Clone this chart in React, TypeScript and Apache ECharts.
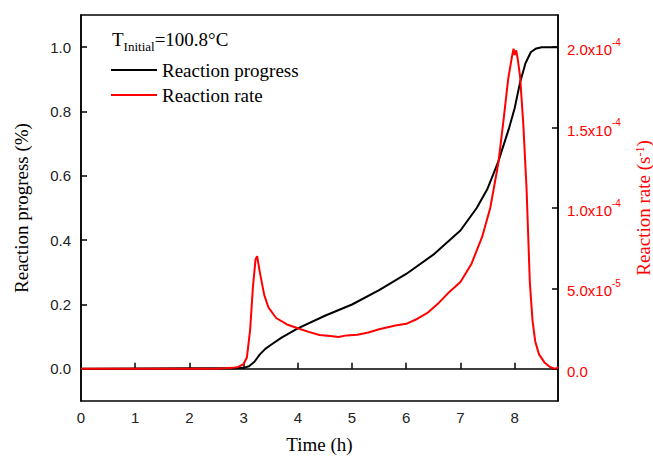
import React, { useEffect, useRef } from "react";
import * as echarts from "echarts";

// Reaction progress (fraction) vs time (h)
const timeProgress = [0, 1, 2, 2.8, 3.0, 3.1, 3.2, 3.3, 3.4, 3.5, 3.7, 4.0, 4.5, 5.0, 5.5, 6.0, 6.5, 7.0, 7.3, 7.5, 7.7, 7.9, 8.0, 8.1, 8.2, 8.3, 8.4, 8.5, 8.8];
const progress = [0, 0.001, 0.002, 0.002, 0.003, 0.008, 0.022, 0.045, 0.062, 0.074, 0.097, 0.126, 0.165, 0.2, 0.245, 0.295, 0.355, 0.43, 0.5, 0.56, 0.645, 0.75, 0.81, 0.89, 0.95, 0.985, 0.996, 1.0, 1.0];

// Reaction rate (s^-1) vs time (h)
const timeRate = [0, 1, 2, 2.5, 2.8, 2.9, 3.0, 3.06, 3.12, 3.17, 3.22, 3.25, 3.3, 3.38, 3.46, 3.6, 3.8, 4.0, 4.2, 4.4, 4.6, 4.75, 4.9, 5.1, 5.3, 5.5, 5.8, 6.0, 6.2, 6.4, 6.6, 6.8, 7.0, 7.2, 7.4, 7.55, 7.7, 7.8, 7.88, 7.95, 7.98, 8.0, 8.03, 8.06, 8.1, 8.16, 8.22, 8.28, 8.33, 8.38, 8.45, 8.55, 8.65, 8.72, 8.78, 8.8];
const rate = [0, 0, 0, 0, 6e-7, 1.2e-6, 3e-6, 7e-6, 2.4e-5, 5.0e-5, 6.8e-5, 7.0e-5, 6.0e-5, 4.6e-5, 3.8e-5, 3.16e-5, 2.76e-5, 2.52e-5, 2.3e-5, 2.1e-5, 2.04e-5, 1.98e-5, 2.08e-5, 2.12e-5, 2.26e-5, 2.46e-5, 2.7e-5, 2.8e-5, 3.1e-5, 3.5e-5, 4.1e-5, 4.8e-5, 5.4e-5, 6.5e-5, 8.2e-5, 1.0e-4, 1.28e-4, 1.56e-4, 1.8e-4, 1.94e-4, 1.99e-4, 1.95e-4, 1.98e-4, 1.92e-4, 1.82e-4, 1.52e-4, 1.12e-4, 5.4e-5, 3.0e-5, 1.7e-5, 9e-6, 4e-6, 1.2e-6, 2e-7, 4e-7, 1.2e-6];

// Tick values
const xTicks = [0, 1, 2, 3, 4, 5, 6, 7, 8];
const leftTicks = [0, 0.2, 0.4, 0.6, 0.8, 1.0];
const rightTicks = [0, 5e-5, 1e-4, 1.5e-4, 2e-4];

const SANS = "Liberation Sans, Arial, sans-serif";
const SERIF = "Liberation Serif, Times New Roman, serif";
const RED = "#ff0000";

function rateLabel(v: number): string {
  if (Math.abs(v) < 1e-12) return "{n|0.0}";
  const exp = Math.floor(Math.log10(Math.abs(v)) + 1e-9);
  const mant = v / Math.pow(10, exp);
  return `{n|${mant.toFixed(1)}x10}{sup|${exp}}`;
}

export default function App() {
  const ref = useRef<HTMLDivElement>(null);
  useEffect(() => {
    if (!ref.current) return;
    const chart = echarts.init(ref.current, null, { renderer: "svg" });
    const axisLineStyle = { color: "#000", width: 1.5 };
    chart.setOption({
      animation: false,
      backgroundColor: "#fff",
      grid: {
        left: 81,
        right: 95,
        top: 15,
        bottom: 56,
        containLabel: false,
        outerBoundsMode: "none",
        show: true,
        borderColor: "#000",
        borderWidth: 1.5,
        backgroundColor: "transparent",
      },
      legend: {
        orient: "vertical",
        left: 111,
        top: 59,
        icon: "rect",
        itemWidth: 46,
        itemHeight: 2,
        itemGap: 3,
        padding: 0,
        textStyle: { fontFamily: SERIF, fontSize: 19, color: "#000", lineHeight: 22 },
        data: ["Reaction progress", "Reaction rate"],
      },
      graphic: [
        {
          type: "text",
          left: 112,
          top: 30,
          style: {
            text: "{t|T}{s|Initial}{t|=100.8°C}",
            rich: {
              t: { fontFamily: SERIF, fontSize: 19, fill: "#000", lineHeight: 22, verticalAlign: "bottom" },
              s: { fontFamily: SERIF, fontSize: 13, fill: "#000", lineHeight: 14, verticalAlign: "bottom", padding: [0, 0, -4, 0] },
            },
          },
        },
      ],
      xAxis: {
        type: "value",
        min: 0,
        max: 8.8,
        name: "Time (h)",
        nameLocation: "middle",
        nameGap: 34,
        nameTextStyle: { fontFamily: SERIF, fontSize: 19, color: "#000" },
        axisLine: { show: true, lineStyle: axisLineStyle },
        axisTick: { show: true, inside: true, length: 6, customValues: xTicks, lineStyle: axisLineStyle },
        axisLabel: { customValues: xTicks, fontFamily: SANS, fontSize: 15, color: "#222", margin: 9 },
        splitLine: { show: false },
      },
      yAxis: [
        {
          type: "value",
          position: "left",
          min: -0.1,
          max: 1.1,
          name: "Reaction progress (%)",
          nameLocation: "middle",
          nameGap: 50,
          nameRotate: 90,
          nameTextStyle: { fontFamily: SERIF, fontSize: 19, color: "#000" },
          axisLine: { show: true, lineStyle: axisLineStyle },
          axisTick: { show: true, inside: true, length: 6, customValues: leftTicks, lineStyle: axisLineStyle },
          axisLabel: {
            customValues: leftTicks,
            fontFamily: SANS,
            fontSize: 15,
            color: "#222",
            margin: 10,
            formatter: (v: number) => v.toFixed(1),
          },
          splitLine: { show: false },
        },
        {
          type: "value",
          position: "right",
          min: -2e-5,
          max: 2.2e-4,
          name: "Reaction rate (s{sup|-1})",
          nameLocation: "middle",
          nameGap: 76,
          nameRotate: 90,
          nameTextStyle: {
            fontFamily: SERIF,
            fontSize: 19,
            color: RED,
            rich: {
              sup: { fontFamily: SERIF, fontSize: 12, color: RED, verticalAlign: "top", lineHeight: 12 },
            },
          },
          axisLine: { show: true, lineStyle: axisLineStyle },
          axisTick: { show: true, inside: true, length: 6, customValues: rightTicks, lineStyle: axisLineStyle },
          axisLabel: {
            customValues: rightTicks,
            margin: 9,
            formatter: rateLabel,
            rich: {
              n: { fontFamily: SANS, fontSize: 15, color: RED, lineHeight: 20, verticalAlign: "bottom" },
              sup: { fontFamily: SANS, fontSize: 10, color: RED, lineHeight: 20, verticalAlign: "top" },
            },
          },
          splitLine: { show: false },
        },
      ],
      series: [
        {
          name: "Reaction progress",
          type: "line",
          yAxisIndex: 0,
          showSymbol: false,
          symbol: "none",
          color: "#000",
          lineStyle: { color: "#000", width: 2 },
          itemStyle: { color: "#000" },
          data: timeProgress.map((t, i) => [t, progress[i]]),
          z: 2,
        },
        {
          name: "Reaction rate",
          type: "line",
          yAxisIndex: 1,
          showSymbol: false,
          symbol: "none",
          color: RED,
          lineStyle: { color: RED, width: 2 },
          itemStyle: { color: RED },
          data: timeRate.map((t, i) => [t, rate[i]]),
          z: 3,
        },
      ],
    });
    return () => chart.dispose();
  }, []);
  return <div ref={ref} style={{ position: "fixed", left: 0, top: 0, width: 653, height: 457 }} />;
}
